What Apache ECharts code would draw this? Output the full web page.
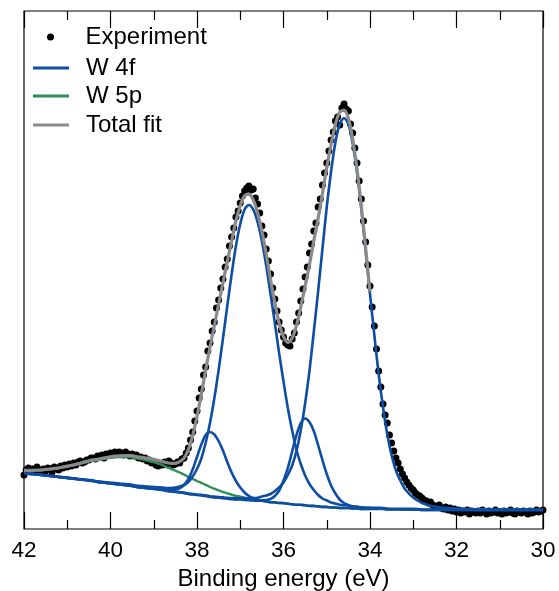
<!DOCTYPE html>
<html>
<head>
	<meta charset="utf-8">
	<title>W 4f XPS</title>
	<script src="https://cdn.jsdelivr.net/npm/echarts@6/dist/echarts.min.js"></script>
	<style type="text/css">
		html, body {
			margin: 0;
			padding: 0;
			background: #fff;
		}
		#chart {
			width: 559px;
			height: 591px;
		}
	</style>
</head>
<body>
	<div id="chart"></div>
	<script type="text/javascript">
		// x ticks (binding energy, eV)
		var tickMin = 30, tickMax = 42, tickStep = 2;

		// fit curves sampled every 0.1 eV from 42.0 down to 30.0
		var fitStart = 42.0, fitStep = 0.1;
		var background = [
			56, 55.5, 55, 54.5, 54, 53.5, 53, 52.5, 52, 51.5,
			51, 50.5, 50, 49.5, 49, 48.5, 48, 47, 46.5, 46,
			45.5, 45, 44.5, 44, 43.5, 43, 42, 41.5, 41, 40.5,
			40, 39.5, 39, 38, 37.5, 37, 36.5, 36, 35, 34.5,
			34, 33.5, 33, 32, 31.5, 31, 30.5, 30, 29.5, 29,
			29, 28.5, 28, 27.5, 27, 27, 26.5, 26, 26, 25.5,
			25.5, 25, 24.5, 24, 24, 23.5, 23, 23, 22.5, 22,
			22, 21.5, 21.5, 21, 21, 21, 20.5, 20.5, 20, 20,
			20, 20, 20, 20, 19.5, 19.5, 19.5, 19.5, 19.5, 19.5,
			19.5, 19.5, 19, 19, 19, 19, 19, 19, 19, 19,
			19, 19, 19, 19, 19, 19, 19, 19, 19, 19,
			19, 19, 19, 19, 19, 19, 19, 19, 19, 19,
			19
		];
		// W 5p (above background)
		var w5p = [
			2.3, 2.8, 3.4, 4.1, 4.8, 5.7, 6.6, 7.7, 8.8, 10.1,
			11.4, 12.8, 14.3, 15.8, 17.4, 19.0, 20.4, 21.8, 23.1, 24.4,
			25.6, 26.6, 27.4, 28.0, 28.4, 28.6, 28.6, 28.4, 28.0, 27.5,
			26.8, 26.0, 25.0, 23.9, 22.7, 21.4, 20.0, 18.5, 17.0, 15.5,
			14.0, 12.6, 11.2, 10.0, 8.8, 7.7, 6.6, 5.7, 4.8, 4.1,
			3.4, 2.8, 2.3, 1.9, 1.6, 1.2, 1.0, 0.8, 0.6, 0.5,
			0.4, 0.3, 0.2, 0.2, 0.1, 0.1, 0.1, 0, 0, 0,
			0, 0, 0, 0, 0, 0, 0, 0, 0, 0,
			0
		];
		// W 4f7/2 (34.6 eV)
		var w4fA = [
			0, 0, 0, 0, 0, 0, 0, 0, 0, 0,
			0, 0, 0, 0, 0, 0, 0, 0, 0.1, 0.1,
			0.1, 0.1, 0.1, 0.1, 0.1, 0.1, 0.1, 0.1, 0.1, 0.2,
			0.2, 0.2, 0.2, 0.3, 0.3, 0.3, 0.4, 0.4, 0.4, 0.5,
			0.5, 0.6, 0.7, 0.8, 0.9, 1.0, 1.1, 1.2, 1.4, 1.6,
			1.9, 2.3, 2.8, 3.5, 4.3, 5.5, 7, 9, 12, 16,
			21, 29, 39, 54, 75, 102, 135, 174, 215, 258,
			300, 336, 365, 384, 390, 384, 365, 336, 300, 258,
			215, 174, 135, 102, 75, 54, 39, 29, 21, 16,
			12, 9, 7, 5.5, 4.3, 3.5, 2.8, 2.3, 1.9, 1.6,
			1.4, 1.2, 1.1, 0.9, 0.8, 0.7, 0.6, 0.6, 0.5, 0.5,
			0.4, 0.4, 0.4, 0.3, 0.3, 0.3, 0.3, 0.2, 0.2, 0.2,
			0.2
		];
		// W 4f5/2 (36.8 eV)
		var w4fB = [
			0.2, 0.2, 0.2, 0.2, 0.3, 0.3, 0.3, 0.3, 0.3, 0.3,
			0.4, 0.4, 0.4, 0.4, 0.5, 0.5, 0.5, 0.6, 0.7, 0.7,
			0.8, 0.9, 1.0, 1.1, 1.2, 1.3, 1.4, 1.5, 1.7, 1.8,
			2.0, 2.2, 2.5, 3.0, 3.5, 4.5, 6, 8, 12, 18,
			26, 37, 53, 74, 99, 128, 160, 193, 225, 254,
			276, 291, 296, 292, 280, 261, 237, 209, 180, 150,
			122, 96, 74, 55, 41, 30, 22, 16, 11.5, 8.5,
			6.5, 5, 4, 3.3, 2.8, 2.5, 2.2, 1.9, 1.7, 1.5,
			1.4, 1.2, 1.1, 1.0, 0.9, 0.8, 0.8, 0.7, 0.7, 0.6,
			0.6, 0.5, 0.5, 0.4, 0.4, 0.4, 0.3, 0.3, 0.3, 0.3,
			0.2, 0.2, 0.2, 0.2, 0.2, 0.1, 0.1, 0.1, 0.1, 0.1,
			0.1, 0.1, 0.1, 0.1, 0.1, 0.1, 0.1, 0.1, 0.1, 0.1,
			0.1
		];
		// small doublet, lower component (35.5 eV)
		var w4fC = [
			0, 0, 0, 0, 0, 0, 0, 0, 0, 0,
			0, 0, 0, 0, 0, 0, 0, 0, 0, 0,
			0, 0, 0, 0, 0, 0, 0, 0, 0, 0,
			0, 0, 0, 0, 0, 0, 0, 0, 0, 0,
			0, 0, 0, 0, 0, 0.2, 0.2, 0.3, 0.3, 0.4,
			0.5, 0.6, 0.8, 1.0, 1.2, 1.7, 2.5, 4, 7, 13,
			23, 36, 53, 70, 82, 87, 84, 75, 61.5, 47,
			33, 22, 14, 8.5, 5, 3, 2, 1.4, 1, 0.8,
			0.6, 0.5, 0.4, 0.3, 0.3, 0.2, 0.2, 0.2, 0.1, 0.1,
			0.1, 0.1, 0, 0, 0, 0, 0, 0, 0, 0,
			0, 0, 0, 0, 0, 0, 0, 0, 0, 0,
			0, 0, 0, 0, 0, 0, 0, 0, 0, 0,
			0
		];
		// small doublet, upper component (37.7 eV)
		var w4fD = [
			0.1, 0.1, 0.1, 0.1, 0.1, 0.1, 0.1, 0.1, 0.1, 0.1,
			0.1, 0.1, 0.1, 0.1, 0.2, 0.2, 0.2, 0.2, 0.2, 0.2,
			0.2, 0.2, 0.2, 0.2, 0.3, 0.3, 0.3, 0.3, 0.4, 0.5,
			0.6, 0.7, 0.8, 1.1, 1.6, 2.5, 4.5, 8, 15, 25,
			38, 51, 61, 65, 63, 57, 48, 37, 27, 19,
			12.5, 8, 5, 3.2, 2.2, 1.5, 1.0, 0.8, 0.6, 0.5,
			0.4, 0.3, 0.3, 0.2, 0.2, 0.2, 0.1, 0.1, 0.1, 0.1,
			0.1, 0, 0, 0, 0, 0, 0, 0, 0, 0,
			0, 0, 0, 0, 0, 0, 0, 0, 0, 0,
			0, 0, 0, 0, 0, 0, 0, 0, 0, 0,
			0, 0, 0, 0, 0, 0, 0, 0, 0, 0,
			0, 0, 0, 0, 0, 0, 0, 0, 0, 0,
			0
		];

		// measured points every 0.05 eV from 42.00 down to 30.00
		var expStart = 42.0, expStep = 0.05;
		var experiment = [
			54, 59, 61, 57, 60, 58, 62, 59, 57, 60,
			58, 61, 60, 57, 62, 61, 59, 63, 61, 64,
			62, 65, 63, 66, 64, 67, 68, 66, 67, 69,
			69, 71, 71, 70, 73, 72, 74, 71, 75, 74,
			76, 74, 77, 75, 77, 76, 74, 77, 75, 73,
			75, 73, 74, 71, 72, 70, 71, 68, 69, 66,
			67, 64, 63, 65, 64, 67, 65, 68, 66, 64,
			65, 67, 66, 70, 71, 76, 81, 89, 97, 108,
			118, 131, 140, 154, 162, 178, 186, 198, 207, 221,
			229, 241, 250, 262, 270, 283, 292, 301, 312, 318,
			326, 333, 338, 341, 343, 339, 340, 331, 325, 316,
			303, 294, 280, 268, 255, 241, 230, 218, 207, 199,
			192, 186, 184, 183, 190, 196, 207, 216, 228, 240,
			252, 262, 276, 285, 298, 306, 322, 330, 344, 356,
			366, 378, 389, 397, 408, 412, 404, 421, 425, 420,
			418, 405, 396, 381, 366, 348, 330, 308, 287, 264,
			243, 222, 203, 180, 158, 142, 125, 114, 106, 94,
			86, 78, 71, 66, 60, 55, 51, 47, 44, 41,
			39, 36, 34, 33, 31, 29, 28, 26, 27, 24,
			23, 22, 24, 21, 20, 22, 19, 21, 18, 20,
			17, 19, 16, 18, 17, 19, 15, 18, 17, 16,
			18, 16, 19, 17, 15, 18, 16, 17, 19, 16,
			17, 15, 18, 16, 17, 19, 16, 15, 18, 17,
			16, 18, 17, 15, 18, 16, 17, 19, 17, 18,
			19
		];

		var FONT = '"Liberation Sans", Arial, Helvetica, sans-serif';
		var BLUE = '#0d4ea3';
		var GREEN = '#2f8f5b';
		var GREY = '#8a8a8a';

		var fitE = function(i) {
			return Math.round((fitStart - fitStep * i) * 100) / 100;
		};
		// component drawn on top of the background
		var withBg = function(arr, upto) {
			var out = [];
			for (var i = 0; i < arr.length && i <= upto; i++) {
				out.push([fitE(i), background[i] + arr[i]]);
			}
			return out;
		};
		var totalFit = [];
		for (var i = 0; i < background.length; i++) {
			totalFit.push([fitE(i), background[i] + w5p[i] + w4fA[i] + w4fB[i] + w4fC[i] + w4fD[i]]);
		}
		var expData = [];
		for (var j = 0; j < experiment.length; j++) {
			expData.push([Math.round((expStart - expStep * j) * 100) / 100, experiment[j]]);
		}

		var blueLine = function(arr) {
			return {
				name: 'W 4f',
				type: 'line',
				data: withBg(arr, 200),
				showSymbol: false,
				smooth: 0.3,
				z: 3,
				color: BLUE,
				lineStyle: { color: BLUE, width: 2.6 }
			};
		};

		var legendBase = function(name, left, top, icon, h) {
			return {
				data: [name],
				left: left,
				top: top,
				padding: 0,
				icon: icon,
				itemWidth: 36,
				itemHeight: h,
				selectedMode: false,
				textStyle: { fontSize: 24, color: '#000', fontFamily: FONT, padding: [0, 0, 0, 12] }
			};
		};

		var chart = echarts.init(document.getElementById('chart'));
		chart.setOption({
			animation: false,
			backgroundColor: '#fff',
			textStyle: { fontFamily: FONT },
			grid: {
				left: 24, right: 16, top: 11, bottom: 62,
				containLabel: false,
				outerBoundsMode: 'none',
				show: true, borderColor: '#000', borderWidth: 1.2
			},
			legend: [
				legendBase('Experiment', 47, 25, 'circle', 7),
				legendBase('W 4f', 33, 56, 'rect', 3),
				legendBase('W 5p', 33, 84, 'rect', 3),
				legendBase('Total fit', 33, 113, 'rect', 3)
			],
			xAxis: [{
				type: 'value',
				inverse: true,
				min: tickMin,
				max: tickMax,
				interval: tickStep,
				name: 'Binding energy (eV)',
				nameLocation: 'middle',
				nameGap: 34,
				nameTextStyle: { fontSize: 24, color: '#000', fontFamily: FONT },
				axisLine: { show: false },
				axisTick: { show: true, inside: true, length: 17, lineStyle: { color: '#000', width: 1.2 } },
				minorTick: { show: true, splitNumber: 2, length: 9, lineStyle: { color: '#000', width: 1.2 } },
				splitLine: { show: false },
				axisLabel: { fontSize: 22.5, color: '#000', margin: 10, fontFamily: FONT }
			}, {
				type: 'value',
				position: 'top',
				inverse: true,
				min: tickMin,
				max: tickMax,
				interval: tickStep,
				axisLine: { show: false },
				axisTick: { show: true, inside: true, length: 17, lineStyle: { color: '#000', width: 1.2 } },
				minorTick: { show: true, splitNumber: 2, length: 9, lineStyle: { color: '#000', width: 1.2 } },
				splitLine: { show: false },
				axisLabel: { show: false }
			}],
			yAxis: {
				type: 'value',
				min: 0,
				max: 518,
				axisLine: { show: false },
				axisTick: { show: false },
				axisLabel: { show: false },
				splitLine: { show: false }
			},
			series: [{
				name: 'Experiment',
				type: 'scatter',
				data: expData,
				symbol: 'circle',
				symbolSize: 7,
				z: 1,
				color: '#000',
				itemStyle: { color: '#000', opacity: 1 }
			}, {
				name: 'W 5p',
				type: 'line',
				data: withBg(w5p, 80),
				showSymbol: false,
				smooth: 0.3,
				z: 2,
				color: GREEN,
				lineStyle: { color: GREEN, width: 2.4 }
			},
				blueLine(w4fA),
				blueLine(w4fB),
				blueLine(w4fC),
				blueLine(w4fD),
			{
				name: 'Total fit',
				type: 'line',
				data: totalFit,
				showSymbol: false,
				smooth: 0.3,
				z: 4,
				color: GREY,
				lineStyle: { color: GREY, width: 3.2 }
			}]
		});
	</script>
</body>
</html>
